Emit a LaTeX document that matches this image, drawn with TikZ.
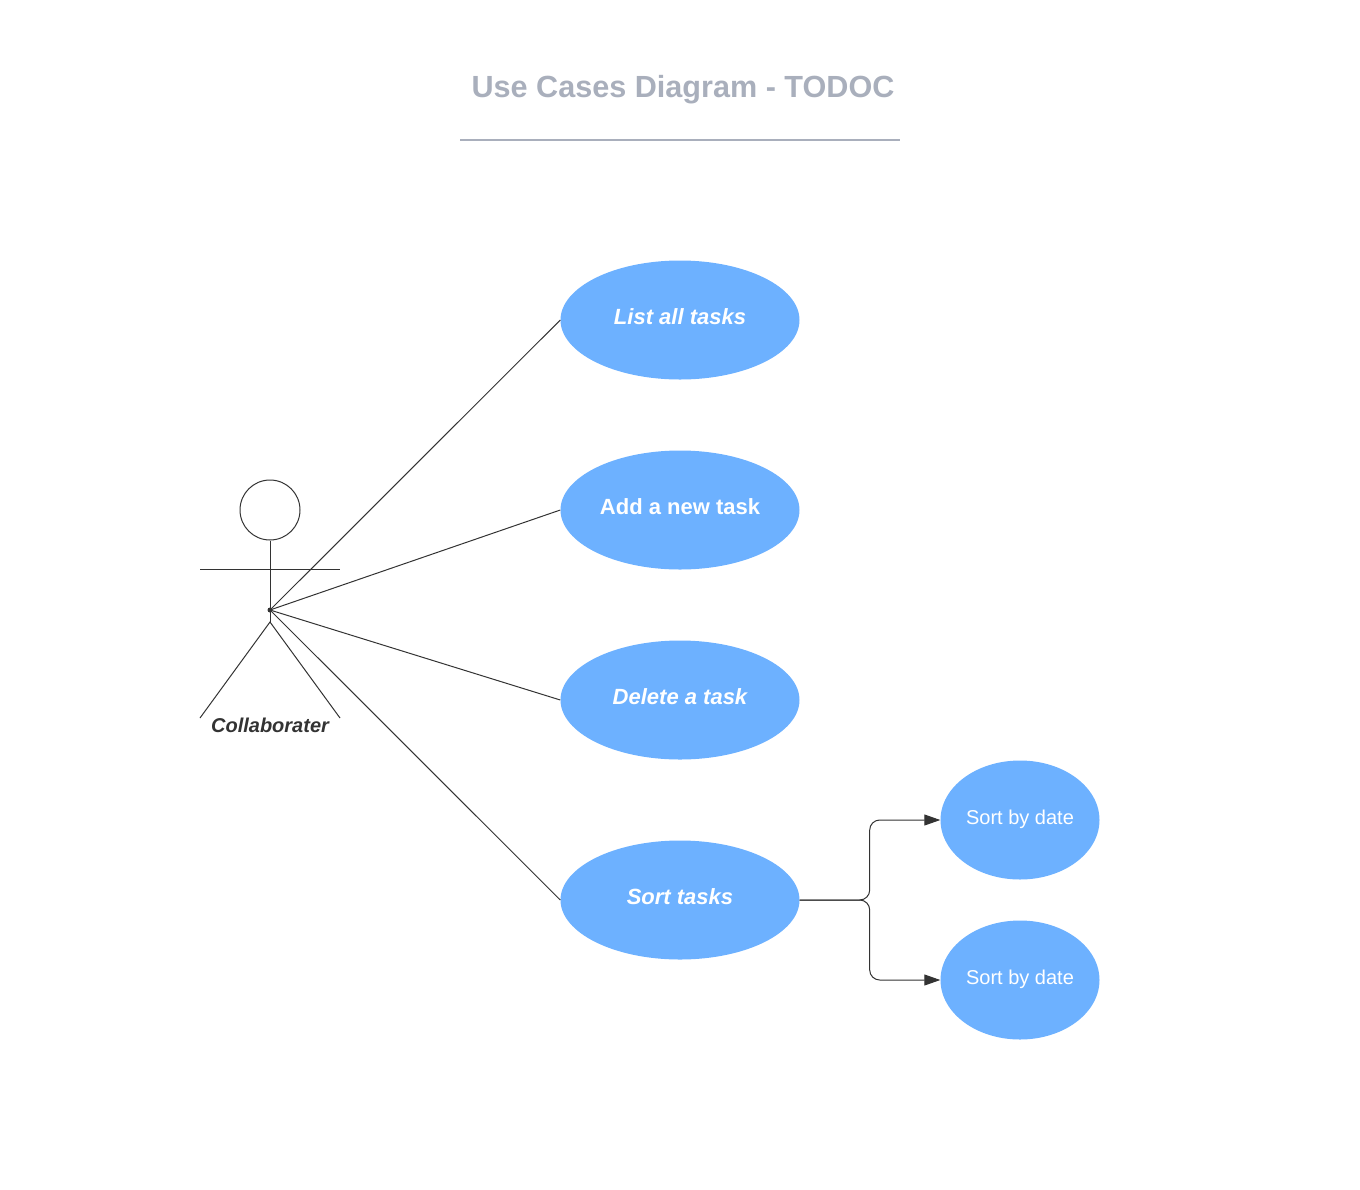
\documentclass[tikz,border=0pt]{standalone}
\usepackage{fontspec}
\setmainfont{Liberation Sans}
\usetikzlibrary{shapes.geometric,arrows.meta}
\definecolor{ucblue}{HTML}{6DB1FF}
\definecolor{inkc}{HTML}{333333}
\definecolor{titlec}{HTML}{A9AFBC}
\tikzset{
  big/.style={ellipse,fill=ucblue,draw=none,minimum width=239pt,minimum height=119pt,inner sep=0pt,text=white,text depth=6pt,text height=14pt},
  small/.style={ellipse,fill=ucblue,draw=none,minimum width=159pt,minimum height=119pt,inner sep=0pt,text=white,text depth=6pt,text height=14pt,font=\fontsize{20}{24}\selectfont},
  bi/.style={font=\fontsize{22}{26}\selectfont\bfseries\itshape},
  bu/.style={font=\fontsize{22}{26}\selectfont\bfseries},
  wire/.style={draw=inkc,line width=1pt},
  arrowwire/.style={wire,rounded corners=10pt,-{Triangle[length=16pt,width=11pt]}},
}
\begin{document}
\begin{tikzpicture}[x=1pt,y=-1pt]
\useasboundingbox (0,0) rectangle (1360,1189);
\node[font=\fontsize{30.6}{38}\selectfont\bfseries,text=titlec] (title) at (683,90) {Use Cases Diagram - TODOC};
\coordinate (ruleL) at (460,140);
\coordinate (ruleR) at (900,140);
\draw[draw=titlec,line width=2pt] (ruleL) -- (ruleR);

\node[big,bi] (list) at (680,320) {List all tasks};
\node[big,bu] (add) at (680,510) {Add a new task};
\node[big,bi] (del) at (680,700) {Delete a task};
\node[big,bi] (sort) at (680,900) {Sort tasks};
\node[small] (s1) at (1020,820) {Sort by date};
\node[small] (s2) at (1020,980) {Sort by date};

\node[circle,draw=inkc,line width=1pt,minimum size=60pt,inner sep=0pt] (head) at (270,510) {};
\coordinate (hip) at (270,622);
\coordinate (armL) at (200,569);
\coordinate (armR) at (340,569);
\coordinate (legL) at (200,718);
\coordinate (legR) at (340,718);
\node[circle,fill=inkc,minimum size=5pt,inner sep=0pt] (hub) at (270,610) {};
\draw[wire] (head.south) -- (hip);
\draw[wire] (armL) -- (armR);
\draw[wire] (legL) -- (hip) -- (legR);
\node[font=\fontsize{20}{24}\selectfont\bfseries\itshape,text=inkc] (actor) at (270,725) {Collaborater};

\draw[wire] (hub.center) -- (list.west);
\draw[wire] (hub.center) -- (add.west);
\draw[wire] (hub.center) -- (del.west);
\draw[wire] (hub.center) -- (sort.west);
\draw[arrowwire] (sort.east) -- ++(70,0) |- (s1.west);
\draw[arrowwire] (sort.east) -- ++(70,0) |- (s2.west);
\end{tikzpicture}
\end{document}
